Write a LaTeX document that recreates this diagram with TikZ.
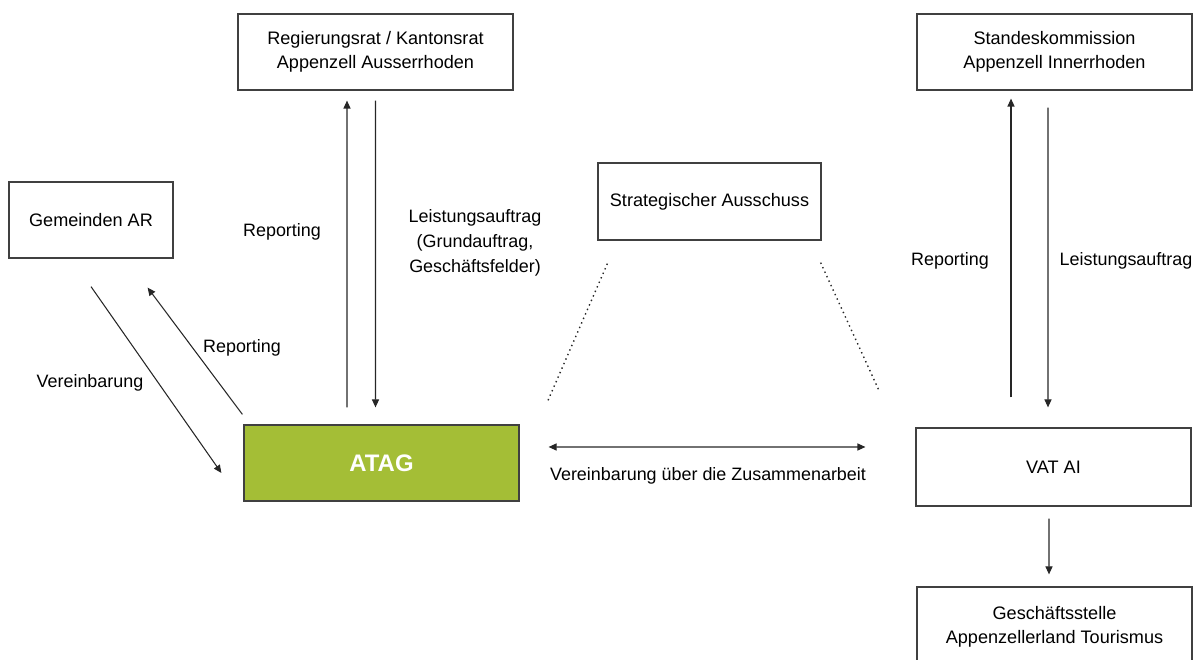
\documentclass[tikz,border=0pt]{standalone}
\usepackage{fontspec}
\setmainfont{Liberation Sans}
\usepackage{xcolor}
\usetikzlibrary{arrows.meta}
\definecolor{ataggreen}{RGB}{164,190,54}
\definecolor{boxline}{RGB}{64,64,64}

\tikzset{
  orgbox/.style={draw=boxline, line width=0.7pt, fill=white, align=center,
    minimum width=5.5cm, minimum height=1.52cm, inner sep=2pt,
    font=\fontsize{10.3}{13.6}\selectfont},
  flow/.style={draw=black!85, line width=0.6pt, -{Triangle[length=4.5pt,width=4pt]}},
  lbl/.style={align=center, font=\fontsize{10.2}{14.2}\selectfont}
}

\begin{document}
\begin{tikzpicture}
\useasboundingbox (0,0) rectangle (23.9,13.2);
\clip (0,0) rectangle (23.9,13.2);
% Boxes
\node[orgbox] (rr) at (7.51,12.16) {Regierungsrat / Kantonsrat\\Appenzell Ausserrhoden};
\node[orgbox] (sk) at (21.09,12.16) {Standeskommission\\Appenzell Innerrhoden};
\node[orgbox, minimum width=3.28cm] (gem) at (1.82,8.80) {Gemeinden AR};
\node[orgbox, minimum width=4.46cm, minimum height=1.54cm] (sa) at (14.19,9.17) {Strategischer Ausschuss};
\node[orgbox, fill=ataggreen, text=white, font=\fontsize{13.6}{15}\selectfont\bfseries] (atag) at (7.63,3.94) {ATAG};
\node[orgbox, minimum height=1.56cm] (vat) at (21.07,3.86) {VAT AI};
\node[orgbox, minimum height=1.6cm] (gs) at (21.09,0.66) {Geschäftsstelle\\Appenzellerland Tourismus};
% Arrows Ausserrhoden
\draw[flow] ([xshift=-0.69cm,yshift=0.34cm]atag.north) -- ([xshift=-0.57cm,yshift=-0.2cm]rr.south);
\draw[flow] ([yshift=-0.2cm]rr.south) -- ([xshift=-0.12cm,yshift=0.34cm]atag.north);
\draw[flow] ([yshift=-0.56cm]gem.south) -- ([xshift=-0.44cm,yshift=-0.2cm]atag.west);
\draw[flow] ([xshift=-0.02cm,yshift=0.2cm]atag.north west) -- ([xshift=-0.52cm,yshift=-0.58cm]gem.south east);
% Arrows Innerrhoden
\draw[flow] ([xshift=-0.85cm,yshift=0.6cm]vat.north) -- ([xshift=-0.87cm,yshift=-0.16cm]sk.south);
\draw[flow] ([xshift=-0.13cm,yshift=-0.34cm]sk.south) -- ([xshift=-0.11cm,yshift=0.4cm]vat.north);
\draw[flow] ([xshift=-0.09cm,yshift=-0.24cm]vat.south) -- ([xshift=-0.11cm,yshift=0.24cm]gs.north);
% Zusammenarbeit
\draw[flow, {Triangle[length=4.5pt,width=4pt]}-{Triangle[length=4.5pt,width=4pt]}] ([xshift=0.58cm,yshift=0.32cm]atag.east) -- ([xshift=-1.0cm,yshift=0.4cm]vat.west);
\draw[black!85, line width=0.8pt, dotted] ([xshift=0.2cm,yshift=-0.46cm]sa.south west) -- ([xshift=0.56cm,yshift=0.46cm]atag.north east);
\draw[black!85, line width=0.8pt, dotted] ([xshift=-0.02cm,yshift=-0.44cm]sa.south east) -- ([xshift=-0.72cm,yshift=0.72cm]vat.north west);
% Labels
\node[lbl] (rrrep) at (5.64,8.56) {Reporting};
\node[lbl] (rrauf) at (9.50,8.34) {Leistungsauftrag\\(Grundauftrag,\\Geschäftsfelder)};
\node[lbl] (gemrep) at (4.84,6.24) {Reporting};
\node[lbl] (gemver) at (1.80,5.54) {Vereinbarung};
\node[lbl] (zus) at (14.16,3.68) {Vereinbarung über die Zusammenarbeit};
\node[lbl] (skrep) at (19.00,7.98) {Reporting};
\node[lbl] (skauf) at (22.52,7.98) {Leistungsauftrag};
\end{tikzpicture}
\end{document}
